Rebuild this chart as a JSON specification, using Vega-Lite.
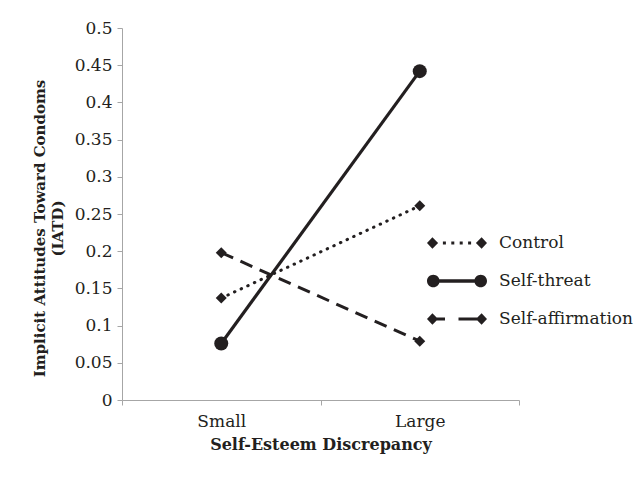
{
  "$schema": "https://vega.github.io/schema/vega-lite/v6.json",
  "autosize": {"type": "none"},
  "width": 397,
  "height": 372,
  "padding": {"left": 122, "top": 28, "right": 120, "bottom": 86},
  "background": "white",
  "config": {
    "view": {"stroke": null},
    "font": "DejaVu Serif",
    "axis": {"domainColor": "#a6a6a6", "tickColor": "#a6a6a6", "tickSize": 5, "grid": false, "labelColor": "#231f20", "titleColor": "#231f20", "labelFont": "DejaVu Serif", "titleFont": "DejaVu Serif", "labelFontSize": 17, "titleFontSize": 15, "titleFontWeight": "bold"},
    "legend": {"labelFont": "DejaVu Serif", "labelFontSize": 17, "labelColor": "#231f20"}
  },
  "data": {"values": [
    {"size": "Small", "condition": "Control", "iatd": 0.137},
    {"size": "Large", "condition": "Control", "iatd": 0.261},
    {"size": "Small", "condition": "Self-threat", "iatd": 0.076},
    {"size": "Large", "condition": "Self-threat", "iatd": 0.442},
    {"size": "Small", "condition": "Self-affirmation", "iatd": 0.198},
    {"size": "Large", "condition": "Self-affirmation", "iatd": 0.079}
  ]},
  "encoding": {
    "x": {"field": "size", "type": "nominal", "sort": ["Small", "Large"],
      "scale": {"type": "band", "paddingInner": 0, "paddingOuter": 0},
      "axis": {"title": "Self-Esteem Discrepancy", "titleFontSize": 16, "labelAngle": 0, "tickBand": "extent", "labelPadding": 8, "titlePadding": 7}},
    "y": {"field": "iatd", "type": "quantitative",
      "scale": {"domain": [0, 0.5], "nice": false, "zero": true},
      "axis": {"title": ["Implicit Attitudes Toward Condoms", "(IATD)"], "values": [0, 0.05, 0.1, 0.15, 0.2, 0.25, 0.3, 0.35, 0.4, 0.45, 0.5],
        "labelExpr": "format(datum.value, '.2~f')", "labelPadding": 5, "titleX": -83, "titleY": 200, "titleBaseline": "middle", "titleAlign": "center", "titleAngle": -90, "titleLineHeight": 18}}
  },
  "layer": [
    {
      "transform": [{"filter": "datum.condition === 'Control'"}],
      "mark": {"type": "line", "color": "#231f20", "strokeWidth": 3, "strokeCap": "round", "strokeDash": [0.5, 6.8]}
    },
    {
      "transform": [{"filter": "datum.condition === 'Self-threat'"}],
      "mark": {"type": "line", "color": "#231f20", "strokeWidth": 3.2}
    },
    {
      "transform": [{"filter": "datum.condition === 'Self-affirmation'"}],
      "mark": {"type": "line", "color": "#231f20", "strokeWidth": 3, "strokeDash": [13, 8]}
    },
    {
      "mark": {"type": "point", "filled": true, "color": "#231f20", "size": 0, "strokeWidth": 0},
      "encoding": {
        "shape": {"field": "condition", "type": "nominal",
          "scale": {"domain": ["Control", "Self-threat", "Self-affirmation"], "range": [
            "M -1 0 L -0.82 -0.19 L -0.63 0 L -0.82 0.19 Z M -0.47 -0.05 L -0.37 -0.05 L -0.37 0.05 L -0.47 0.05 Z M -0.19 -0.05 L -0.09 -0.05 L -0.09 0.05 L -0.19 0.05 Z M 0.09 -0.05 L 0.19 -0.05 L 0.19 0.05 L 0.09 0.05 Z M 0.37 -0.05 L 0.47 -0.05 L 0.47 0.05 L 0.37 0.05 Z M 0.63 0 L 0.82 -0.19 L 1 0 L 0.82 0.19 Z",
            "M -0.58 0 A 0.21 0.21 0 1 1 -1 0 A 0.21 0.21 0 1 1 -0.58 0 Z M -0.79 -0.055 L 0.79 -0.055 L 0.79 0.055 L -0.79 0.055 Z M 1 0 A 0.21 0.21 0 1 1 0.58 0 A 0.21 0.21 0 1 1 1 0 Z",
            "M -1 0 L -0.82 -0.19 L -0.63 0 L -0.82 0.19 Z M -0.7 -0.05 L -0.4 -0.05 L -0.4 0.05 L -0.7 0.05 Z M 0.05 -0.05 L 0.7 -0.05 L 0.7 0.05 L 0.05 0.05 Z M 0.63 0 L 0.82 -0.19 L 1 0 L 0.82 0.19 Z"
          ]},
          "legend": {"title": null, "orient": "none", "legendX": 305, "legendY": 185, "padding": 0, "symbolSize": 3600, "symbolOpacity": 1, "symbolFillColor": "#231f20", "symbolStrokeWidth": 0, "labelOffset": 12, "rowPadding": -10.5}
        }
      }
    },
    {
      "transform": [{"filter": "datum.condition !== 'Self-threat'"}],
      "mark": {"type": "point", "shape": "diamond", "filled": true, "color": "#231f20", "size": 121, "opacity": 1}
    },
    {
      "transform": [{"filter": "datum.condition === 'Self-threat'"}],
      "mark": {"type": "point", "shape": "circle", "filled": true, "color": "#231f20", "size": 196, "opacity": 1}
    }
  ]
}
